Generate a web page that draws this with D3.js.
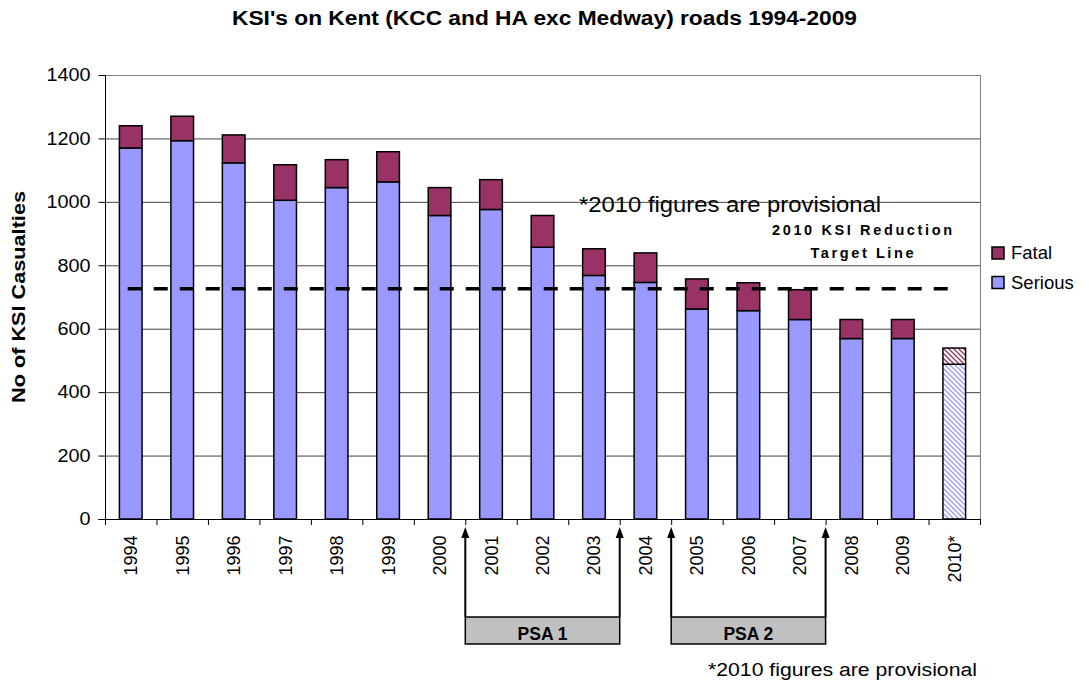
<!DOCTYPE html>
<html>
<head>
<meta charset="utf-8">
<script src="https://cdn.jsdelivr.net/npm/d3@7"></script>
<style>
  html, body { margin: 0; padding: 0; background: #fff; }
  svg { display: block; font-family: "Liberation Sans", Arial, sans-serif; }
</style>
</head>
<body>
<svg id="chart" width="1089" height="686"></svg>
<script>
// ---- data ----
const years = ["1994","1995","1996","1997","1998","1999","2000","2001","2002","2003","2004","2005","2006","2007","2008","2009","2010*"];
const serious = [1170,1193,1123,1005,1045,1063,957,976,857,768,746,662,657,629,569,569,488];
const fatal   = [70,77,88,112,88,95,88,94,100,84,93,95,88,94,60,60,51];
const provisional = ["2010*"];
const targetValue = 726;
const yTicks = [0,200,400,600,800,1000,1200,1400];
const seriesNames = ["Fatal","Serious"];
const psaPeriods = [
  {label: "PSA 1", from: "2001", to: "2003"},
  {label: "PSA 2", from: "2005", to: "2007"}
];
const titleText = "KSI's on Kent (KCC and HA exc Medway) roads 1994-2009";
const yTitle = "No of KSI Casualties";
const noteText = "*2010 figures are provisional";
const targetLabel = ["2010 KSI Reduction", "Target Line"];

// ---- layout ----
const svg = d3.select("#chart");
const L = 105, R = 980, T = 75, B = 519;
const colors = {Serious: "#9999FF", Fatal: "#993366"};

const x = d3.scaleBand().domain(years).range([L, R]).paddingInner(0.56).paddingOuter(0.28);
const y = d3.scaleLinear().domain([0, 1400]).range([B, T]);
const step = x.step();
const boundary = (yr, side) => x(yr) - x.paddingOuter() * step + (side === "right" ? step : 0);

// patterns
const defs = svg.append("defs");
function hatch(id, color) {
  const p = defs.append("pattern").attr("id", id).attr("patternUnits", "userSpaceOnUse")
    .attr("width", 5).attr("height", 5);
  p.append("rect").attr("width", 5).attr("height", 5).attr("fill", "#fff");
  p.append("path").attr("d", "M0,0 L5,5 M-1,4 L1,6 M4,-1 L6,1")
    .attr("stroke", color).attr("stroke-width", 1.3);
}
hatch("hatchSerious", colors.Serious);
hatch("hatchFatal", colors.Fatal);

// title
svg.append("text").attr("x", 232).attr("y", 25)
  .attr("font-size", 19.5).attr("font-weight", "bold")
  .attr("textLength", 625).attr("lengthAdjust", "spacingAndGlyphs")
  .text(titleText);

// gridlines
svg.append("g").selectAll("line").data(yTicks.filter(d => d > 0)).join("line")
  .attr("x1", L).attr("x2", R).attr("y1", d => y(d) + 0.5).attr("y2", d => y(d) + 0.5)
  .attr("stroke", d => d === 1400 ? "#808080" : "#444").attr("stroke-width", 1);
// right border
svg.append("line").attr("x1", R + 0.5).attr("x2", R + 0.5).attr("y1", T).attr("y2", B)
  .attr("stroke", "#808080");

// bars
const rows = years.map((yr, i) => ({yr, serious: serious[i], fatal: fatal[i], prov: provisional.includes(yr)}));
const bars = svg.append("g");
bars.selectAll("rect.serious").data(rows).join("rect").attr("class", "serious")
  .attr("x", d => x(d.yr)).attr("width", x.bandwidth())
  .attr("y", d => y(d.serious)).attr("height", d => y(0) - y(d.serious))
  .attr("fill", d => d.prov ? "url(#hatchSerious)" : colors.Serious)
  .attr("stroke", "#000").attr("stroke-width", 1.5);
bars.selectAll("rect.fatal").data(rows).join("rect").attr("class", "fatal")
  .attr("x", d => x(d.yr)).attr("width", x.bandwidth())
  .attr("y", d => y(d.serious + d.fatal)).attr("height", d => y(d.serious) - y(d.serious + d.fatal))
  .attr("fill", d => d.prov ? "url(#hatchFatal)" : colors.Fatal)
  .attr("stroke", "#000").attr("stroke-width", 1.5);

// target line
svg.append("line")
  .attr("x1", x(years[0]) + x.bandwidth() / 2 - 3).attr("x2", x(years[years.length - 1]) + x.bandwidth() / 2)
  .attr("y1", y(targetValue)).attr("y2", y(targetValue))
  .attr("stroke", "#000").attr("stroke-width", 3.5).attr("stroke-dasharray", "14,12");

// y axis
const yAxis = svg.append("g").attr("transform", `translate(${L + 0.5},0)`)
  .call(d3.axisLeft(y).tickValues(yTicks).tickSize(7).tickPadding(8).tickFormat(d3.format("d")));
yAxis.select(".domain").attr("stroke", "#000").attr("d", `M-7,${B + 0.5}H0V${T}`);
yAxis.selectAll(".tick line").attr("stroke", "#000");
yAxis.selectAll(".tick text").attr("font-size", 18).attr("font-family", "Liberation Sans, Arial, sans-serif").attr("fill", "#000")
  .each(function () { const w = this.getComputedTextLength(); d3.select(this).attr("textLength", w * 1.1).attr("lengthAdjust", "spacingAndGlyphs"); });

// x axis
const xAxis = svg.append("g").attr("transform", `translate(0,${B + 0.5})`)
  .call(d3.axisBottom(x).tickSize(0).tickPadding(0));
xAxis.select(".domain").attr("stroke", "#000").attr("d", `M${L},0H${R + 1}`);
xAxis.selectAll(".tick text")
  .attr("font-size", 18).attr("font-family", "Liberation Sans, Arial, sans-serif").attr("fill", "#000")
  .attr("text-anchor", "end").attr("transform", "translate(0,16) rotate(-90)")
  .attr("x", 0).attr("y", 0).attr("dy", "0.36em");
// boundary ticks
svg.append("g").selectAll("line").data(d3.range(years.length + 1)).join("line")
  .attr("x1", i => L + i * step + 0.5).attr("x2", i => L + i * step + 0.5)
  .attr("y1", B).attr("y2", B + 6).attr("stroke", "#000");

// y title
svg.append("text").attr("transform", `translate(25,${(T + B) / 2}) rotate(-90)`)
  .attr("text-anchor", "middle").attr("font-size", 18.5).attr("font-weight", "bold")
  .attr("textLength", 212).attr("lengthAdjust", "spacingAndGlyphs")
  .text(yTitle);

// in-plot note
svg.append("text").attr("x", 579).attr("y", 212).attr("font-size", 22)
  .attr("textLength", 302).attr("lengthAdjust", "spacingAndGlyphs").text(noteText);
// target label
svg.append("text").attr("x", 862).attr("y", 235).attr("text-anchor", "middle")
  .attr("font-size", 14.5).attr("font-weight", "bold")
  .attr("textLength", 180).attr("lengthAdjust", "spacing").text(targetLabel[0]);
svg.append("text").attr("x", 862).attr("y", 258).attr("text-anchor", "middle")
  .attr("font-size", 14.5).attr("font-weight", "bold")
  .attr("textLength", 103).attr("lengthAdjust", "spacing").text(targetLabel[1]);

// legend
const leg = svg.append("g");
seriesNames.forEach((s, i) => {
  const ly = 247 + i * 29.5;
  leg.append("rect").attr("x", 992).attr("y", ly).attr("width", 12).attr("height", 12)
    .attr("fill", colors[s]).attr("stroke", "#000").attr("stroke-width", 1.5);
  leg.append("text").attr("x", 1011).attr("y", ly + 12).attr("font-size", 18.5).text(s);
});

// PSA brackets
const psa = svg.append("g");
psaPeriods.forEach(p => {
  const x0 = boundary(p.from, "left"), x1 = boundary(p.to, "right");
  const boxTop = 617, boxBot = 644;
  psa.append("rect").attr("x", x0).attr("y", boxTop).attr("width", x1 - x0).attr("height", boxBot - boxTop)
    .attr("fill", "#C0C0C0").attr("stroke", "#000").attr("stroke-width", 1.5);
  [x0, x1].forEach(xx => {
    psa.append("line").attr("x1", xx).attr("x2", xx).attr("y1", boxTop).attr("y2", 536)
      .attr("stroke", "#000").attr("stroke-width", 2);
    psa.append("path").attr("d", `M${xx},527 L${xx - 4},538 L${xx + 4},538 Z`).attr("fill", "#000");
  });
  psa.append("text").attr("x", (x0 + x1) / 2).attr("y", 639.5).attr("text-anchor", "middle")
    .attr("font-size", 17.5).attr("font-weight", "bold").text(p.label);
});

// bottom note
svg.append("text").attr("x", 708).attr("y", 676).attr("font-size", 18)
  .attr("textLength", 269).attr("lengthAdjust", "spacingAndGlyphs").text(noteText);
</script>
</body>
</html>
